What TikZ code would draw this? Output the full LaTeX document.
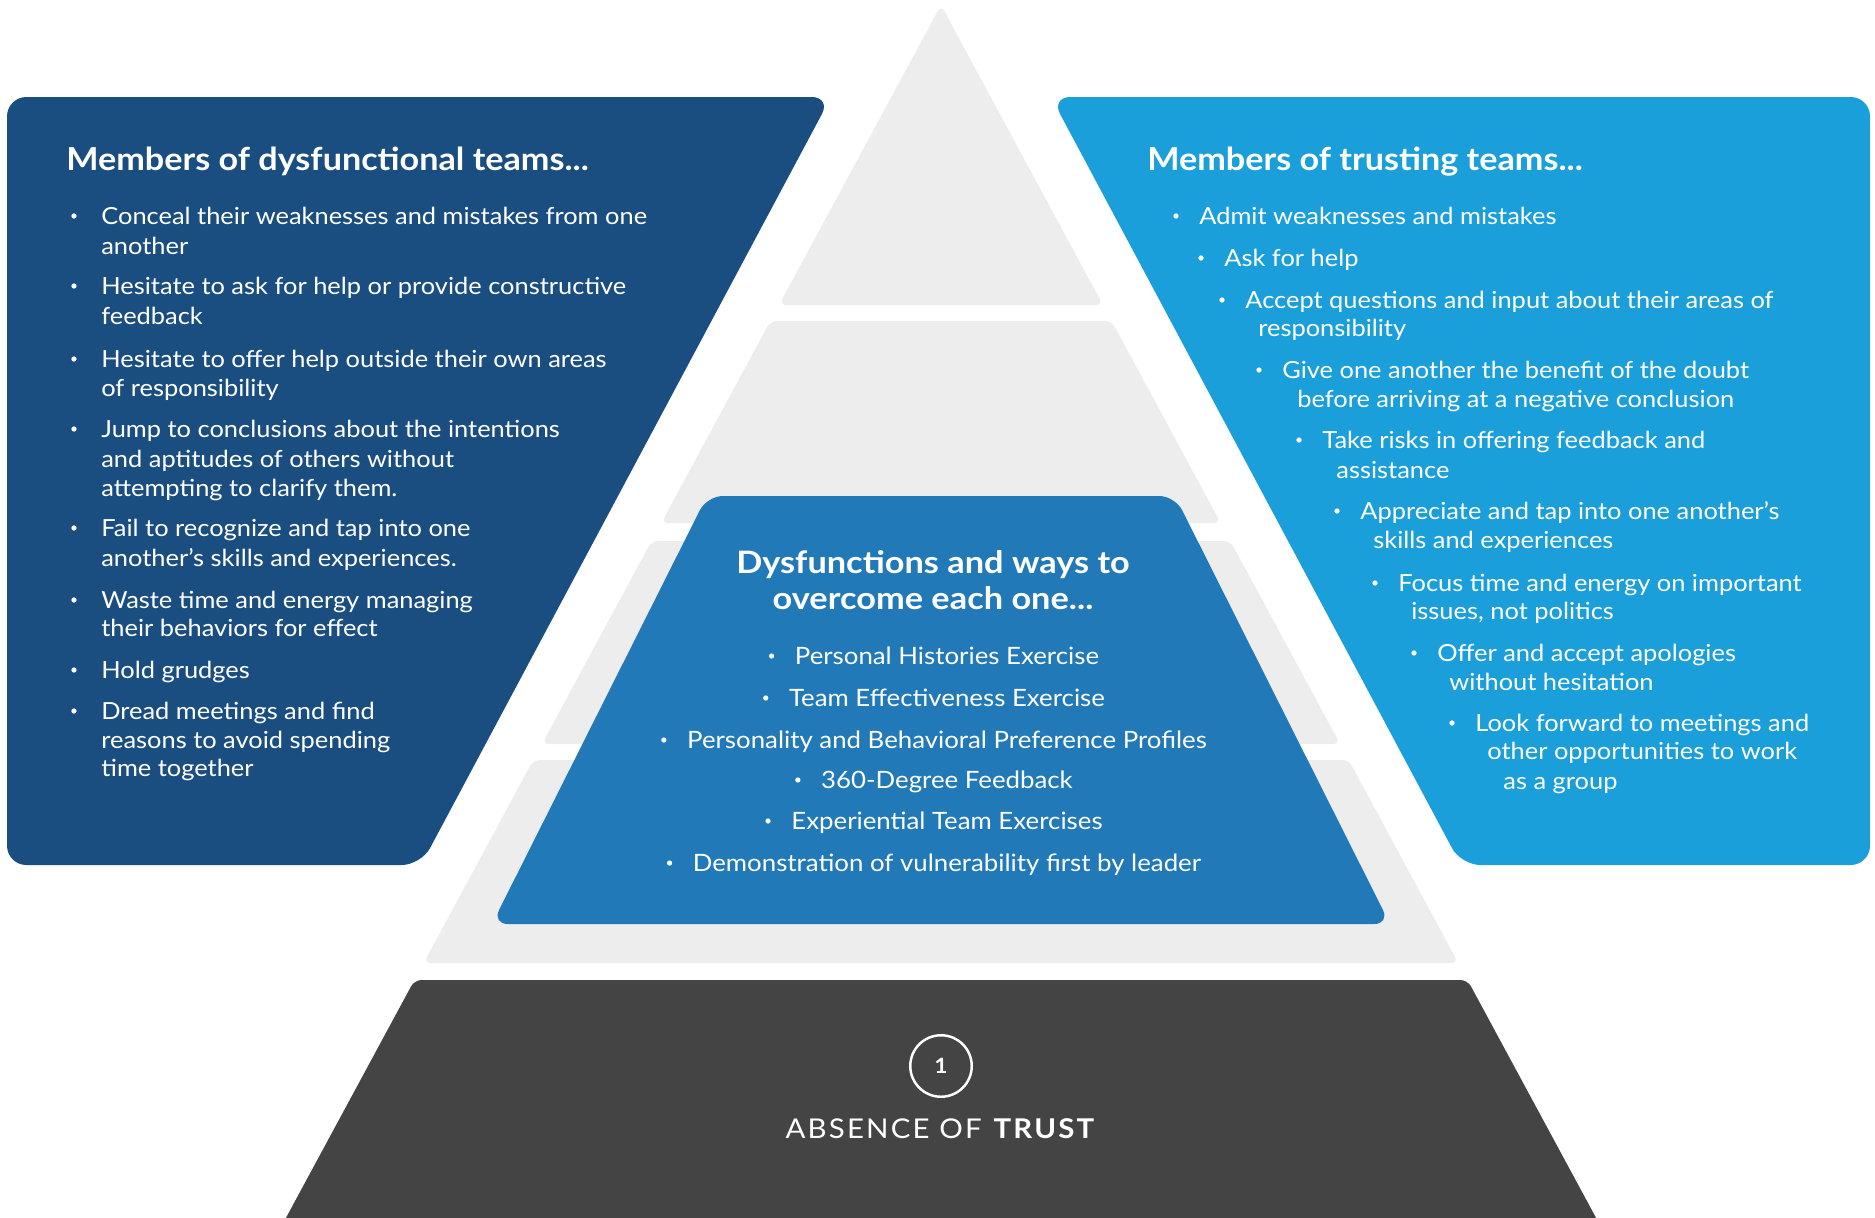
\documentclass[tikz,border=0pt]{standalone}
\usepackage{fontspec}
\setmainfont{Lato}[FakeStretch=1.08]
\definecolor{dkblue}{HTML}{1B4E80}
\definecolor{ltblue}{HTML}{1A9FDA}
\definecolor{midblue}{HTML}{2179B8}
\definecolor{bandgray}{HTML}{EDEDED}
\definecolor{darkband}{HTML}{444444}
\tikzset{
  bodytxt/.style={text=white, font=\fontsize{13.4}{16}\selectfont, inner sep=0pt, anchor=base west},
  centertxt/.style={text=white, font=\fontsize{13.6}{16}\selectfont, inner sep=0pt, anchor=base},
  headtxt/.style={text=white, font=\bfseries\fontsize{18}{21}\selectfont, inner sep=0pt},
  bul/.style={circle, fill=white, inner sep=0pt, minimum size=3pt},
  bandshape/.style={fill=bandgray, rounded corners=4pt},
}
\begin{document}
\begin{tikzpicture}[x=0.02cm,y=-0.02cm]
\useasboundingbox (0,0) rectangle (1875,1217);
% pyramid bands
\fill[bandshape] (941,5) -- (1103,305) -- (779,305) -- cycle;
\fill[bandshape] (770.4,321) -- (1111.6,321) -- (1220.7,523) -- (661.3,523) -- cycle;
\fill[bandshape] (651.6,541) -- (1230.4,541) -- (1340.1,744) -- (541.9,744) -- cycle;
\fill[bandshape] (533.3,760) -- (1348.7,760) -- (1458.3,963) -- (423.7,963) -- cycle;
\fill[darkband, rounded corners=4pt] (414.5,980) -- (1467.5,980) -- (1608,1240) -- (274,1240) -- cycle;
% side panels
\fill[dkblue, rounded corners=11pt] (7,97) -- (831,97) -- (421,865) -- (7,865) -- cycle;
\fill[ltblue, rounded corners=11pt] (1051,97) -- (1870,97) -- (1870,865) -- (1461,865) -- cycle;
% centre trapezoid
\fill[midblue, rounded corners=9pt] (707,496) -- (1175,496) -- (1390,924) -- (492,924) -- cycle;

% headers
\node[headtxt, anchor=base west] (lhead) at (66,170) {Members of dysfunctional teams...};
\node[headtxt, anchor=base west] (rhead) at (1147,170) {Members of trusting teams...};
\node[headtxt, anchor=base, font=\bfseries\fontsize{17.6}{20}\selectfont\addfontfeatures{FakeStretch=1.11}] (chead1) at (933,573) {Dysfunctions and ways to};
\node[headtxt, anchor=base, font=\bfseries\fontsize{17.6}{20}\selectfont\addfontfeatures{FakeStretch=1.11}] (chead2) at (933,609) {overcome each one...};

% left list
\foreach \y/\b/\t [count=\i] in {
  224/1/Conceal their weaknesses and mistakes from one,
  254/0/another,
  294/1/Hesitate to ask for help or provide constructive,
  324/0/feedback,
  367/1/Hesitate to offer help outside their own areas,
  396/0/of responsibility,
  437/1/Jump to conclusions about the intentions,
  467/0/and aptitudes of others without,
  496/0/attempting to clarify them.,
  536/1/Fail to recognize and tap into one,
  566/0/another’s skills and experiences.,
  608/1/Waste time and energy managing,
  636/0/their behaviors for effect,
  678/1/Hold grudges,
  719/1/Dread meetings and find,
  748/0/reasons to avoid spending,
  776/0/time together}{
  \node[bodytxt] (L\i) at (101,\y) {\t};
  \ifnum\b=1 \node[bul] (LB\i) at (74,\y-8) {};\fi
}

% right list
\foreach \x/\y/\b/\t [count=\i] in {
  1199/224/1/Admit weaknesses and mistakes,
  1224/266/1/Ask for help,
  1245/308/1/Accept questions and input about their areas of,
  1258/336/0/responsibility,
  1282/378/1/Give one another the benefit of the doubt,
  1297/407/0/before arriving at a negative conclusion,
  1322/448/1/Take risks in offering feedback and,
  1336/478/0/assistance,
  1360/519/1/Appreciate and tap into one another’s,
  1373/548/0/skills and experiences,
  1398/591/1/Focus time and energy on important,
  1411/619/0/{issues, not politics},
  1437/661/1/Offer and accept apologies,
  1449/690/0/without hesitation,
  1475/731/1/Look forward to meetings and,
  1487/759/0/other opportunities to work,
  1503/789/0/as a group}{
  \node[bodytxt] (R\i) at (\x,\y) {\t};
  \ifnum\b=1 \node[bul] (RB\i) at (\x-23,\y-8) {};\fi
}

% centre list
\foreach \y/\t [count=\i] in {
  664/Personal Histories Exercise,
  706/Team Effectiveness Exercise,
  748/Personality and Behavioral Preference Profiles,
  788/360-Degree Feedback,
  829/Experiential Team Exercises,
  871/Demonstration of vulnerability first by leader}{
  \node[centertxt] (C\i) at (947,\y) {\t};
  \node[bul] (CB\i) at ([xshift=-23*0.02cm, yshift=8*0.02cm]C\i.base west) {};
}

% bottom level
\node[circle, draw=white, line width=1.4pt, minimum size=35pt, inner sep=0pt, text=white, font=\bfseries\fontsize{12}{14}\selectfont] (num) at (941,1066) {1};
\node[text=white, anchor=base, inner sep=0pt, font=\fontsize{15.5}{18}\selectfont\addfontfeatures{LetterSpace=8}] (trust) at (941,1138) {ABSENCE OF \textbf{TRUST}};
\end{tikzpicture}
\end{document}
